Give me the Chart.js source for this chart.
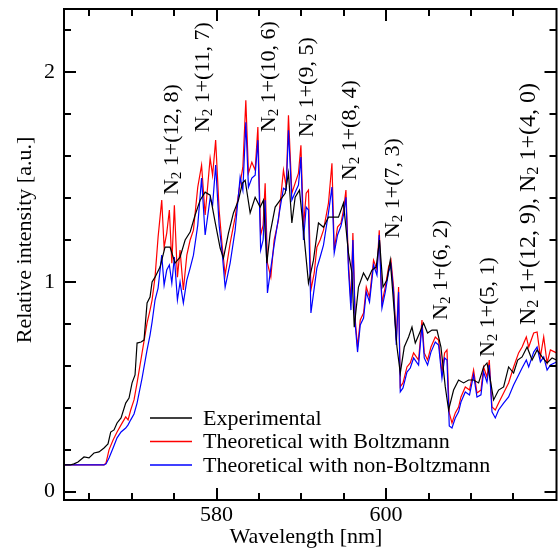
<!DOCTYPE html>
<html>
<head>
<meta charset="utf-8">
<script src="https://cdn.jsdelivr.net/npm/chart.js@4.4.1/dist/chart.umd.min.js"></script>
<style>
  html, body { margin: 0; padding: 0; background: #fff; }
  #wrap { width: 559px; height: 549px; }
</style>
</head>
<body>
<div id="wrap"><canvas id="spectrum"></canvas></div>
<script>
// measured spectrum (black)
const expWavelength = [
  562.00, 562.71, 563.18, 563.65, 564.36, 564.95, 565.54, 566.13, 566.72, 567.19,
  567.51, 567.90, 568.26, 568.73, 569.28, 569.67, 570.03, 570.38, 570.62, 571.09,
  571.44, 571.80, 572.15, 572.39, 572.74, 573.33, 573.92, 574.51, 575.10, 575.69,
  576.29, 576.88, 577.47, 578.06, 578.65, 579.24, 579.83, 580.42, 580.81, 581.40,
  581.99, 582.58, 583.05, 583.37, 583.96, 584.55, 585.14, 585.53, 585.93, 586.32,
  586.91, 587.50, 588.09, 588.48, 588.88, 589.27, 589.78, 590.25, 590.84, 591.43,
  592.02, 592.61, 593.20, 593.79, 594.38, 594.97, 595.56, 595.97, 596.24, 596.74,
  597.33, 597.81, 598.33, 598.83, 599.22, 599.63, 600.10, 600.49, 600.88, 601.28,
  601.67, 602.14, 602.65, 603.05, 603.44, 603.95, 604.42, 604.89, 605.41, 606.00,
  606.47, 606.98, 607.37, 607.96, 608.55, 609.14, 609.73, 610.32, 610.91, 611.50,
  611.90, 612.29, 612.68, 613.27, 613.86, 614.45, 615.04, 615.52, 616.04, 616.63,
  617.22, 617.81, 618.40, 618.99, 619.58, 620.10
];
const expIntensity = [
  0.127, 0.127, 0.132, 0.141, 0.165, 0.161, 0.184, 0.189, 0.208, 0.227,
  0.284, 0.294, 0.327, 0.351, 0.422, 0.446, 0.518, 0.556, 0.708, 0.713,
  0.722, 0.899, 0.927, 0.999, 1.022, 1.070, 1.165, 1.165, 1.089, 1.117,
  1.199, 1.237, 1.318, 1.389, 1.427, 1.413, 1.284, 1.161, 1.113, 1.232,
  1.328, 1.389, 1.470, 1.484, 1.328, 1.403, 1.356, 1.389, 1.089, 1.232,
  1.356, 1.389, 1.422, 1.518, 1.280, 1.403, 1.437, 1.246, 0.994, 1.103,
  1.280, 1.260, 1.308, 1.308, 1.308, 1.375, 1.137, 1.042, 0.784, 0.975,
  1.042, 1.008, 1.056, 1.070, 1.199, 0.975, 1.008, 1.103, 0.899, 0.689,
  0.565, 0.689, 0.737, 0.784, 0.708, 0.756, 0.803, 0.756, 0.770, 0.770,
  0.689, 0.499, 0.389, 0.484, 0.532, 0.518, 0.532, 0.532, 0.518, 0.594,
  0.613, 0.532, 0.437, 0.484, 0.499, 0.594, 0.565, 0.627, 0.642, 0.689,
  0.627, 0.675, 0.642, 0.613, 0.637, 0.627
];

// simulated spectra (red / blue), same wavelength grid
const theoryWavelength = [
  562.00, 564.48, 566.72, 566.96, 567.31, 567.79, 568.26, 568.73, 569.28, 569.56,
  569.87, 570.26, 570.62, 571.21, 571.80, 572.15, 572.39, 572.74, 573.10, 573.53,
  573.81, 574.12, 574.43, 574.72, 575.02, 575.38, 575.69, 576.08, 576.49, 576.88,
  577.27, 577.78, 578.23, 578.65, 579.24, 579.53, 579.89, 580.30, 580.65, 581.01,
  581.60, 582.19, 582.78, 583.10, 583.45, 583.76, 584.16, 584.55, 584.87, 585.20,
  585.49, 585.73, 586.00, 586.40, 586.79, 587.30, 587.89, 588.21, 588.48, 588.88,
  589.27, 589.66, 589.95, 590.25, 590.57, 590.84, 591.13, 591.52, 591.83, 592.22,
  592.61, 593.20, 593.61, 593.88, 594.27, 594.67, 594.97, 595.26, 595.56, 595.85,
  596.08, 596.36, 596.63, 596.95, 597.34, 597.66, 598.04, 598.52, 598.92, 599.19,
  599.51, 599.90, 600.29, 600.57, 600.88, 601.20, 601.47, 601.67, 601.99, 602.46,
  602.85, 603.24, 603.83, 604.23, 604.50, 604.89, 605.29, 605.80, 606.19, 606.59,
  606.90, 607.18, 607.45, 607.77, 608.16, 608.55, 608.83, 609.34, 609.84, 610.32,
  610.72, 611.19, 611.50, 611.90, 612.17, 612.49, 612.88, 613.27, 613.86, 614.45,
  615.04, 615.63, 616.04, 616.54, 616.82, 617.41, 617.81, 618.20, 618.59, 618.99,
  619.38, 620.10
];
const boltzmannIntensity = [
  0.127, 0.127, 0.127, 0.137, 0.199, 0.246, 0.284, 0.318, 0.356, 0.342,
  0.389, 0.437, 0.518, 0.661, 0.804, 0.865, 0.913, 1.022, 1.213, 1.389,
  1.165, 1.232, 1.342, 1.089, 1.365, 1.022, 1.151, 0.961, 1.127, 1.199,
  1.246, 1.451, 1.556, 1.318, 1.589, 1.508, 1.675, 1.342, 1.175, 1.032,
  1.184, 1.308, 1.470, 1.546, 1.865, 1.518, 1.570, 1.532, 1.737, 1.223,
  1.270, 1.470, 1.089, 1.022, 1.199, 1.294, 1.532, 1.451, 1.794, 1.422,
  1.470, 1.518, 1.651, 1.261, 1.422, 1.437, 0.961, 1.042, 1.165, 1.199,
  1.246, 1.375, 1.565, 1.151, 1.261, 1.280, 1.342, 1.437, 1.089, 0.899,
  1.232, 0.818, 0.689, 0.818, 0.851, 0.975, 0.927, 1.103, 1.056, 1.246,
  0.899, 0.975, 1.070, 1.103, 0.975, 0.722, 0.975, 0.499, 0.518, 0.594,
  0.613, 0.661, 0.627, 0.818, 0.661, 0.627, 0.689, 0.737, 0.722, 0.565,
  0.661, 0.675, 0.375, 0.327, 0.375, 0.403, 0.451, 0.499, 0.484, 0.580,
  0.470, 0.484, 0.594, 0.546, 0.627, 0.403, 0.389, 0.422, 0.470, 0.518,
  0.594, 0.661, 0.689, 0.737, 0.689, 0.756, 0.761, 0.642, 0.737, 0.613,
  0.675, 0.661
];
const nonBoltzmannIntensity = [
  0.127, 0.127, 0.127, 0.132, 0.160, 0.208, 0.256, 0.284, 0.303, 0.318,
  0.342, 0.370, 0.422, 0.541, 0.675, 0.746, 0.808, 0.913, 0.970, 1.127,
  0.984, 1.056, 1.080, 0.994, 1.118, 0.913, 0.999, 0.899, 1.008, 1.065,
  1.127, 1.270, 1.494, 1.223, 1.399, 1.365, 1.556, 1.270, 1.142, 0.975,
  1.089, 1.246, 1.499, 1.437, 1.760, 1.451, 1.494, 1.508, 1.675, 1.151,
  1.199, 1.389, 0.947, 1.065, 1.175, 1.304, 1.446, 1.437, 1.722, 1.389,
  1.427, 1.461, 1.594, 1.199, 1.356, 1.342, 0.851, 0.970, 1.065, 1.118,
  1.175, 1.328, 1.451, 1.137, 1.223, 1.266, 1.318, 1.403, 1.056, 0.865,
  1.199, 0.794, 0.665, 0.794, 0.827, 0.951, 0.903, 1.080, 1.032, 1.223,
  0.875, 0.951, 1.046, 1.080, 0.951, 0.699, 0.951, 0.475, 0.494, 0.570,
  0.589, 0.637, 0.603, 0.794, 0.637, 0.603, 0.665, 0.713, 0.699, 0.541,
  0.637, 0.627, 0.313, 0.303, 0.351, 0.380, 0.427, 0.475, 0.461, 0.556,
  0.451, 0.461, 0.570, 0.522, 0.603, 0.380, 0.351, 0.389, 0.422, 0.451,
  0.508, 0.556, 0.589, 0.627, 0.594, 0.665, 0.689, 0.618, 0.642, 0.579,
  0.603, 0.618
];

const seriesNames = ['Experimental', 'Theoretical with Boltzmann', 'Theoretical with non-Boltzmann'];
const seriesColors = ['#000000', '#ff0000', '#0000ff'];

const xTickLabels = [580, 600];
const xMinorTicks = [565, 570, 575, 585, 590, 595, 605, 610, 615];
const yTickLabels = [0, 1, 2];
const yMinorTicks = [0.2, 0.4, 0.6, 0.8, 1.2, 1.4, 1.6, 1.8, 2.2];

// band labels, "_2" marks the subscript
const bandNames = [
  'N_2 1+(12, 8)', 'N_2 1+(11, 7)', 'N_2 1+(10, 6)', 'N_2 1+(9, 5)', 'N_2 1+(8, 4)',
  'N_2 1+(7, 3)', 'N_2 1+(6, 2)', 'N_2 1+(5, 1)', 'N_2 1+(12, 9), N_2 1+(4, 0)'
];
// where each label starts (wavelength, intensity), text runs upwards
const bandAnchors = [
  { x: 574.75, y: 1.413 }, { x: 578.41, y: 1.713 }, { x: 586.20, y: 1.713 },
  { x: 590.69, y: 1.689 }, { x: 595.77, y: 1.484 }, { x: 600.84, y: 1.208 },
  { x: 606.51, y: 0.818 }, { x: 612.06, y: 0.641 }, { x: 616.78, y: 0.794 }
];

const FONT = "'Liberation Serif', 'Times New Roman', serif";

function pairs(xs, ys) {
  return xs.map((x, i) => ({ x: x, y: ys[i] }));
}

function drawRich(ctx, text, size) {
  const parts = text.split(/_(\d)/);
  let dx = 0;
  parts.forEach((p, i) => {
    const sub = i % 2 === 1;
    const s = sub ? size * 0.68 : size;
    ctx.font = s + 'px ' + FONT;
    ctx.fillText(p, dx, sub ? size * 0.22 : 0);
    dx += ctx.measureText(p).width;
  });
}

const decorations = {
  id: 'decorations',
  afterDraw(chart) {
    const { ctx, chartArea: a, scales: { x, y } } = chart;
    ctx.save();
    ctx.strokeStyle = '#000';
    ctx.fillStyle = '#000';
    ctx.lineWidth = 2;
    ctx.lineCap = 'butt';

    // inward ticks on all four sides
    const xTick = (v, len) => {
      const px = Math.round(x.getPixelForValue(v));
      ctx.beginPath();
      ctx.moveTo(px, a.bottom); ctx.lineTo(px, a.bottom - len);
      ctx.moveTo(px, a.top); ctx.lineTo(px, a.top + len);
      ctx.stroke();
    };
    const yTick = (v, len) => {
      const py = Math.round(y.getPixelForValue(v));
      ctx.beginPath();
      ctx.moveTo(a.left, py); ctx.lineTo(a.left + len, py);
      ctx.moveTo(a.right, py); ctx.lineTo(a.right - len, py);
      ctx.stroke();
    };
    xTickLabels.forEach(v => xTick(v, 12));
    xMinorTicks.forEach(v => xTick(v, 7));
    yTickLabels.forEach(v => yTick(v, 12));
    yMinorTicks.forEach(v => yTick(v, 7));
    ctx.strokeRect(a.left, a.top, a.right - a.left, a.bottom - a.top);

    // band labels
    ctx.textAlign = 'left';
    ctx.textBaseline = 'middle';
    bandNames.forEach((name, i) => {
      const px = x.getPixelForValue(bandAnchors[i].x);
      const py = y.getPixelForValue(bandAnchors[i].y);
      ctx.save();
      ctx.translate(px, py);
      ctx.rotate(-Math.PI / 2);
      drawRich(ctx, name, i === bandNames.length - 1 ? 24 : 22);
      ctx.restore();
    });

    // legend
    chart.data.datasets.forEach((ds, i) => {
      const ly = a.bottom - 82 + i * 23.5;
      ctx.strokeStyle = ds.borderColor;
      ctx.lineWidth = 1.5;
      ctx.beginPath();
      ctx.moveTo(a.left + 86, ly);
      ctx.lineTo(a.left + 128, ly);
      ctx.stroke();
      ctx.font = '22px ' + FONT;
      ctx.fillText(ds.label, a.left + 139, ly + 1);
    });

    // axis titles
    ctx.font = '22px ' + FONT;
    ctx.textAlign = 'center';
    ctx.fillText('Wavelength [nm]', 306, 537);
    ctx.save();
    ctx.translate(25, 240);
    ctx.rotate(-Math.PI / 2);
    ctx.fillText('Relative intensity [a.u.]', 0, 0);
    ctx.restore();
    ctx.restore();
  }
};

const lineStyle = { borderWidth: 1.2, pointRadius: 0, tension: 0, fill: false };

new Chart(document.getElementById('spectrum'), {
  type: 'line',
  data: {
    datasets: [
      Object.assign({ label: seriesNames[0], data: pairs(expWavelength, expIntensity),
        borderColor: seriesColors[0], order: 0 }, lineStyle),
      Object.assign({ label: seriesNames[1], data: pairs(theoryWavelength, boltzmannIntensity),
        borderColor: seriesColors[1], order: 2 }, lineStyle),
      Object.assign({ label: seriesNames[2], data: pairs(theoryWavelength, nonBoltzmannIntensity),
        borderColor: seriesColors[2], order: 1 }, lineStyle)
    ]
  },
  options: {
    responsive: true,
    maintainAspectRatio: false,
    animation: false,
    layout: { padding: { top: 9, right: 2.5, left: 0, bottom: 0 } },
    plugins: { legend: { display: false }, tooltip: { enabled: false } },
    scales: {
      x: {
        type: 'linear',
        min: 562,
        max: 620.1,
        grid: { display: false, drawTicks: false },
        border: { display: false },
        afterBuildTicks: s => { s.ticks = xTickLabels.map(v => ({ value: v })); },
        afterFit: s => { s.height = 49; s.paddingLeft = 0; s.paddingRight = 0; },
        ticks: { color: '#000', padding: 2, maxRotation: 0, font: { family: FONT, size: 22 } }
      },
      y: {
        min: -0.04,
        max: 2.3,
        grid: { display: false, drawTicks: false },
        border: { display: false },
        afterBuildTicks: s => { s.ticks = yTickLabels.map(v => ({ value: v })); },
        afterFit: s => { s.width = 64; s.paddingTop = 0; s.paddingBottom = 0; },
        ticks: { color: '#000', padding: 9, font: { family: FONT, size: 22 } }
      }
    }
  },
  plugins: [decorations]
});
</script>
</body>
</html>
